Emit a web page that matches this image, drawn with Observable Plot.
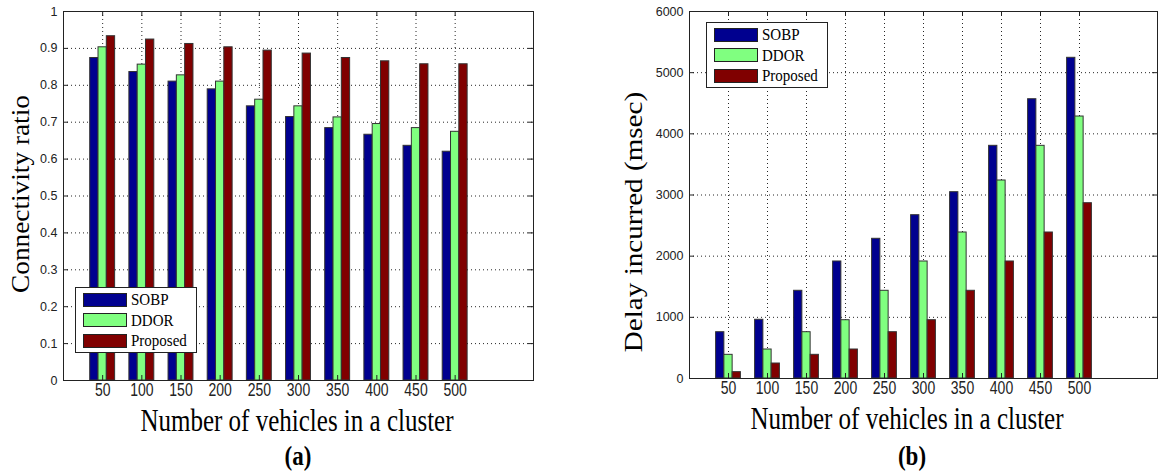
<!DOCTYPE html>
<html>
<head>
<meta charset="utf-8">
<script src="https://cdn.jsdelivr.net/npm/d3@7"></script>
<script src="https://cdn.jsdelivr.net/npm/@observablehq/plot@0.6"></script>
<style>
  html, body { margin: 0; padding: 0; background: #fff; }
  #root { position: relative; width: 1158px; height: 472px; background: #fff; overflow: hidden; }
  .plot { position: absolute; top: 0; }
  .title { position: absolute; font-family: "Liberation Serif", "Times New Roman", serif; color: #000; white-space: nowrap; line-height: 1; }
  .legend { position: absolute; background: #fff; border: 1px solid #222; box-sizing: border-box; width: 122px; height: 66px; }
  .legend .row { position: absolute; left: 7px; height: 15px; display: flex; align-items: center; }
  .legend .sw { width: 44px; height: 14px; border: 1px solid #222; box-sizing: border-box; }
  .legend .lab { margin-left: 4px; font-family: "Liberation Serif", "Times New Roman", serif; font-size: 15px; color: #000; display: inline-block; transform: scaleY(1.15); }
</style>
</head>
<body>
<div id="root"></div>
<script>
// ---- data ----
const vehicles = [50, 100, 150, 200, 250, 300, 350, 400, 450, 500];
const seriesNames = ["SOBP", "DDOR", "Proposed"];
const seriesColors = ["#00008f", "#80ff80", "#800000"];

const connSOBP     = [0.874, 0.836, 0.810, 0.789, 0.743, 0.714, 0.684, 0.666, 0.636, 0.620];
const connDDOR     = [0.903, 0.856, 0.827, 0.810, 0.761, 0.743, 0.713, 0.695, 0.684, 0.674];
const connProposed = [0.933, 0.924, 0.912, 0.903, 0.894, 0.886, 0.874, 0.865, 0.857, 0.857];

const delaySOBP     = [757, 960, 1434, 1913, 2284, 2670, 3046, 3804, 4566, 5243];
const delayDDOR     = [387, 474, 757, 953, 1434, 1913, 2387, 3237, 3804, 4283];
const delayProposed = [104, 245, 387, 474, 757, 953, 1434, 1913, 2387, 2866];

const connTicks  = [0, 0.1, 0.2, 0.3, 0.4, 0.5, 0.6, 0.7, 0.8, 0.9, 1];
const delayTicks = [0, 1000, 2000, 3000, 4000, 5000, 6000];
const xTickLabels = vehicles;

const yLabelA = "Connectivity ratio";
const yLabelB = "Delay incurred (msec)";
const xLabel = "Number of vehicles in a cluster";
const captions = ["(a)", "(b)"];

// ---- chart builder ----
function makeChart({values, yTicks, yDomain, width, height, marginLeft, marginRight, marginTop, marginBottom}) {
  const data = [];
  seriesNames.forEach((s, i) => values[i].forEach((v, j) => data.push({n: vehicles[j], s, i, v})));
  const bw = 10.6; // bar width in x units
  const fw = width - marginLeft - marginRight;
  const fh = height - marginTop - marginBottom;
  const dash = {stroke: "#000", strokeOpacity: 0.85, strokeDasharray: "1,3"};
  return Plot.plot({
    width, height, marginLeft, marginRight, marginTop, marginBottom,
    x: {type: "linear", domain: [0, 600]},
    y: {domain: yDomain},
    color: {domain: seriesNames, range: seriesColors},
    style: {fontFamily: "'Liberation Sans', Arial, sans-serif", background: "transparent", overflow: "visible"},
    marks: [
      Plot.ruleX(xTickLabels, {x: d => d, ...dash}),
      Plot.ruleY(yTicks.slice(1, -1), {y: d => d, ...dash}),
      Plot.rect(data, {
        x1: d => d.n + (d.i - 1.5) * bw,
        x2: d => d.n + (d.i - 0.5) * bw,
        y1: d => 0, y2: "v",
        fill: "s", stroke: "#333", strokeWidth: 1
      }),
      Plot.tickX(xTickLabels, {x: d => d, insetTop: fh - 5, stroke: "#222"}),
      Plot.tickX(xTickLabels, {x: d => d, insetBottom: fh - 5, stroke: "#222"}),
      Plot.tickY(yTicks, {y: d => d, insetRight: fw - 5, stroke: "#222"}),
      Plot.tickY(yTicks, {y: d => d, insetLeft: fw - 5, stroke: "#222"}),
      Plot.frame({stroke: "#222"}),
      Plot.axisX({ticks: xTickLabels, tickSize: 0, tickPadding: 3, fontSize: 14, label: null, fill: "#222", tickFormat: d => String(d)}),
      Plot.axisY({ticks: yTicks, tickSize: 0, tickPadding: 6, fontSize: 12.5, label: null, fill: "#222", tickFormat: d => String(d)})
    ]
  });
}

// stretch x tick labels vertically, like the reference's rendering
function stretchXTicks(svg, k) {
  svg.querySelectorAll('[aria-label="x-axis tick label"] text').forEach(t => {
    const tr = t.getAttribute("transform");
    if (tr) {
      t.setAttribute("transform", tr + ` scale(1,${k})`);
    } else {
      const x = +t.getAttribute("x") || 0, y = +t.getAttribute("y") || 0;
      t.setAttribute("transform", `translate(${x},${y}) scale(1,${k}) translate(${-x},${-y})`);
    }
  });
}

const root = document.getElementById("root");

const left = makeChart({
  values: [connSOBP, connDDOR, connProposed], yTicks: connTicks, yDomain: [0, 1],
  width: 545, height: 400, marginLeft: 63, marginRight: 12, marginTop: 11, marginBottom: 20
});
left.classList.add("plot"); left.style.left = "0px";
stretchXTicks(left, 1.3);
root.appendChild(left);

const right = makeChart({
  values: [delaySOBP, delayDDOR, delayProposed], yTicks: delayTicks, yDomain: [0, 6000],
  width: 558, height: 400, marginLeft: 89, marginRight: 1, marginTop: 11, marginBottom: 22
});
right.classList.add("plot"); right.style.left = "600px";
stretchXTicks(right, 1.3);
root.appendChild(right);

function addText(txt, cx, cy, css, tf) {
  const d = document.createElement("div");
  d.className = "title";
  d.textContent = txt;
  d.style.left = cx + "px";
  d.style.top = cy + "px";
  Object.assign(d.style, css);
  d.style.transform = "translate(-50%, -50%) " + tf;
  root.appendChild(d);
}

addText(yLabelA, 21, 194, {fontSize: "26px"}, "scale(1,1.05) rotate(-90deg)");
addText(yLabelB, 634, 222, {fontSize: "26px"}, "scale(1,1.12) rotate(-90deg)");
addText(xLabel, 297, 420, {fontSize: "25px"}, "scale(1,1.25)");
addText(xLabel, 907, 418, {fontSize: "25px"}, "scale(1,1.25)");
addText(captions[0], 298, 456, {fontSize: "23px", fontWeight: "bold"}, "scale(1,1.2)");
addText(captions[1], 912, 456, {fontSize: "23px", fontWeight: "bold"}, "scale(1,1.2)");

function addLegend(x, y) {
  const lg = document.createElement("div");
  lg.className = "legend";
  lg.style.left = x + "px";
  lg.style.top = y + "px";
  seriesNames.forEach((s, i) => {
    const row = document.createElement("div");
    row.className = "row";
    row.style.top = (4 + i * 20.5) + "px";
    const sw = document.createElement("div");
    sw.className = "sw";
    sw.style.background = seriesColors[i];
    const lab = document.createElement("span");
    lab.className = "lab";
    lab.textContent = s;
    row.appendChild(sw); row.appendChild(lab);
    lg.appendChild(row);
  });
  root.appendChild(lg);
}
addLegend(75, 287);
addLegend(706, 22);
</script>
</body>
</html>
